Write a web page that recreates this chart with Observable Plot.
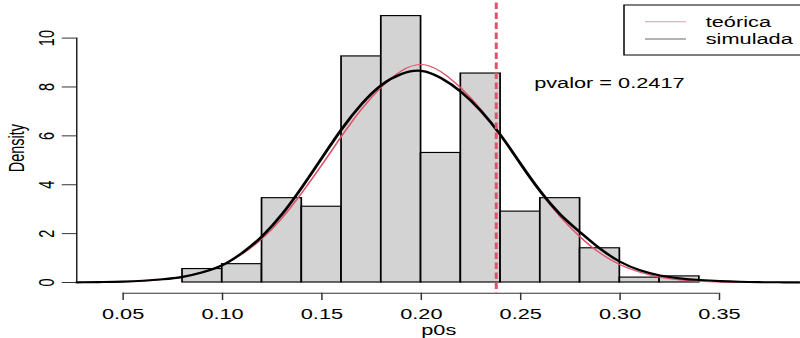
<!DOCTYPE html>
<html>
<head>
<meta charset="utf-8">
<script src="https://cdn.jsdelivr.net/npm/d3@7"></script>
<script src="https://cdn.jsdelivr.net/npm/@observablehq/plot@0.6"></script>
<style>
  html, body { margin: 0; padding: 0; background: #fff; }
  #chart { width: 800px; height: 338px; overflow: hidden; }
</style>
</head>
<body>
<div id="chart"></div>
<script>
// Histogram of the simulated p0s values (density scale), bins of width 0.02
const binEdges = [0.08, 0.10, 0.12, 0.14, 0.16, 0.18, 0.20, 0.22, 0.24, 0.26, 0.28, 0.30, 0.32, 0.34];
const binDensity = [0.55, 0.75, 3.45, 3.10, 9.25, 10.90, 5.30, 8.55, 2.90, 3.45, 1.40, 0.20, 0.25];

// Sample points of the two density curves
const curveX = [0.0267, 0.03, 0.04, 0.05, 0.06, 0.07, 0.08, 0.09, 0.10, 0.11, 0.12, 0.13, 0.14, 0.15,
  0.16, 0.17, 0.18, 0.19, 0.20, 0.21, 0.22, 0.23, 0.24, 0.25, 0.26, 0.27, 0.28, 0.29, 0.30,
  0.31, 0.32, 0.33, 0.34, 0.35, 0.36, 0.37, 0.38, 0.39, 0.3909];
const densTeorica = [0.004, 0.006, 0.014, 0.03, 0.065, 0.13, 0.24, 0.43, 0.72, 1.17, 1.80, 2.64, 3.68, 4.82,
  6.00, 7.10, 8.00, 8.66, 8.92, 8.62, 7.95, 7.08, 6.02, 4.85, 3.68, 2.68, 1.86, 1.20, 0.73,
  0.42, 0.22, 0.11, 0.05, 0.022, 0.009, 0.003, 0.001, 0.0004, 0.0003];
const densSimulada = [0.005, 0.008, 0.018, 0.035, 0.07, 0.13, 0.23, 0.42, 0.71, 1.22, 1.90, 2.80, 3.90, 5.10,
  6.28, 7.30, 8.08, 8.53, 8.66, 8.36, 7.80, 7.02, 6.02, 4.85, 3.72, 2.78, 2.05, 1.38, 0.85,
  0.50, 0.29, 0.17, 0.10, 0.055, 0.028, 0.014, 0.007, 0.003, 0.003];

// Observed statistic and its p-value
const pObs = 0.2377;
const pvalor = 0.2417;

// Axes
const xTicks = [0.05, 0.10, 0.15, 0.20, 0.25, 0.30, 0.35];
const yTicks = [0, 2, 4, 6, 8, 10];
const xLabel = "p0s";
const yLabel = "Density";
const legendLabels = ["teórica", "simulada"];

const RED = "#DF536B";
const FONT = "'Liberation Sans', Arial, Helvetica, sans-serif";

// The graphic is laid out in a narrower frame and stretched horizontally
const SX = 1.5;
const W = 800 / SX;
const H = 338;

// y limits with the usual 4% padding
const yLim = [0, 11];
const yPad = 0.04 * (yLim[1] - yLim[0]);
const yDomain = [yLim[0] - yPad, yLim[1] + yPad];
const xDomain = [0.02667, 0.39088];

const bins = binDensity.map((d, i) => ({x1: binEdges[i], x2: binEdges[i + 1], density: d}));

const chart = Plot.plot({
  width: W,
  height: H,
  marginLeft: 50.67,
  marginRight: 0,
  marginTop: 2.4,
  marginBottom: 45.25,
  x: {domain: xDomain},
  y: {domain: yDomain},
  style: {fontFamily: FONT, fontSize: "14.5px", background: "white", color: "black", overflow: "visible"},
  marks: [
    Plot.rectY(bins, {x1: "x1", x2: "x2", y1: 0, y2: "density", fill: "#D3D3D3", stroke: "black", strokeWidth: 1.15}),
    Plot.line(curveX, {x: curveX, y: densTeorica, curve: "natural", stroke: RED, strokeWidth: 1.2}),
    Plot.line(curveX, {x: curveX, y: densSimulada, curve: "natural", stroke: "black", strokeWidth: 2.1}),
    Plot.ruleX([pObs], {stroke: RED, strokeWidth: 2, strokeDasharray: "6.5,3.5"}),
    Plot.text([pvalor], {x: 0.2946, y: 8.15, text: d => `pvalor = ${d}`, fill: "black", fontSize: 14.5}),
    // axis lines spanning the first to the last tick
    Plot.ruleY([yDomain[0]], {x1: xTicks[0], x2: xTicks[xTicks.length - 1], stroke: "#333", strokeWidth: 1}),
    Plot.ruleX([xDomain[0]], {y1: yTicks[0], y2: yTicks[yTicks.length - 1], stroke: "#222", strokeWidth: 1}),
    Plot.axisX(xTicks, {anchor: "bottom", tickSize: 7.3, tickPadding: 8.3, stroke: "#333",
      tickFormat: d3.format(".2f"), label: xLabel, labelAnchor: "center", labelArrow: false, labelOffset: 42}),
    Plot.axisY(yTicks, {anchor: "left", tickSize: 9.5, tickPadding: 5.6, tickRotate: -90, stroke: "#333",
      textAnchor: "middle", lineAnchor: "bottom",
      label: yLabel, labelAnchor: "center", labelArrow: false, labelOffset: 45.7})
  ]
});

// Stretch the drawing across the full width
chart.setAttribute("width", 800);
chart.setAttribute("height", H);
chart.setAttribute("preserveAspectRatio", "none");
chart.style.width = "800px";
chart.style.height = H + "px";
chart.style.maxWidth = "none";

// Legend box
const g = d3.select(chart).append("g")
  .attr("font-family", FONT).attr("font-size", 14.5).attr("text-anchor", "start");
g.append("rect").attr("x", 416).attr("y", 5).attr("width", 140).attr("height", 50)
  .attr("fill", "white").attr("stroke", "black").attr("stroke-width", 1);
const legendColors = [RED, "black"];
const legendRowY = [21.7, 39];
legendLabels.forEach((lab, i) => {
  g.append("line").attr("x1", 430).attr("x2", 457.3).attr("y1", legendRowY[i]).attr("y2", legendRowY[i])
    .attr("stroke", legendColors[i]).attr("stroke-width", 1).attr("opacity", 0.6);
  g.append("text").attr("x", 470.5).attr("y", legendRowY[i]).attr("dy", "0.35em")
    .attr("text-anchor", "start").attr("fill", "black").text(lab);
});

document.getElementById("chart").appendChild(chart);
</script>
</body>
</html>
